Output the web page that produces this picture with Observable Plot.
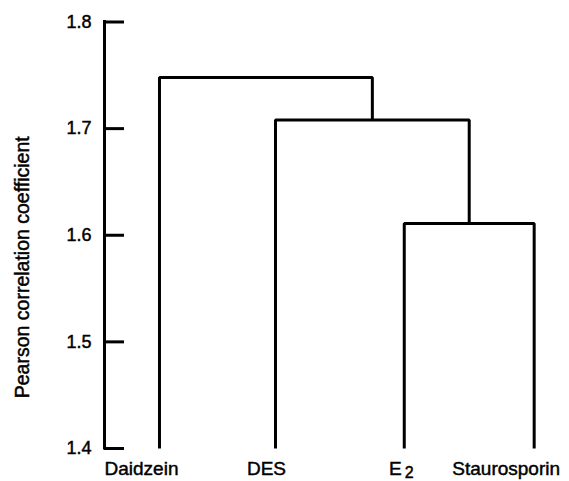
<!DOCTYPE html>
<html>
<head>
<meta charset="utf-8">
<script src="https://cdn.jsdelivr.net/npm/d3@7"></script>
<script src="https://cdn.jsdelivr.net/npm/@observablehq/plot@0.6"></script>
<style>
  html, body { margin: 0; padding: 0; background: #fff; }
  #chart svg { display: block; }
  #chart svg text { stroke: #000; stroke-width: 0.45px; }
</style>
</head>
<body>
<div id="chart"></div>
<script>
// ---- Data ----
const leafNames = ["Daidzein", "DES", "E₂", "Staurosporin"];
const leafOrder = [0, 1, 2.11, 3.23];          // leaf order positions along the dendrogram
const mergeLeft = ["E₂", "DES", "Daidzein"];
const mergeRight = ["Staurosporin", "C1", "C2"];
const mergeNames = ["C1", "C2", "C3"];
const mergeHeights = [1.611, 1.708, 1.748];
const yTicks = [1.4, 1.5, 1.6, 1.7, 1.8];
const yLabel = "Pearson correlation coefficient";

// ---- Build dendrogram links ----
const baseLevel = 1.4;
const nodes = new Map();
leafNames.forEach((n, i) => nodes.set(n, {x: leafOrder[i], h: baseLevel}));
const linkPoints = [];
mergeNames.forEach((m, i) => {
  const L = nodes.get(mergeLeft[i]), R = nodes.get(mergeRight[i]);
  const h = mergeHeights[i];
  linkPoints.push({id: m, x: L.x, y: L.h}, {id: m, x: L.x, y: h},
                  {id: m, x: R.x, y: h}, {id: m, x: R.x, y: R.h});
  nodes.set(m, {x: (L.x + R.x) / 2, h});
});
const leaves = leafNames.map((n, i) => ({name: n, x: leafOrder[i]}));
const labelDx = {"Daidzein": -18, "DES": -9, "E₂": -3, "Staurosporin": -28};

const W = 569, H = 481;
const xDomain = [-0.474, 3.5];
const font = "'Liberation Sans', Arial, Helvetica, sans-serif";

const chart = Plot.plot({
  width: W, height: H,
  marginLeft: 104, marginRight: 4, marginTop: 21.5, marginBottom: 33,
  style: {fontFamily: font, background: "#fff", color: "#000", overflow: "visible"},
  x: {domain: xDomain, axis: null},
  y: {domain: [1.4, 1.8]},
  marks: [
    Plot.axisY({ticks: yTicks, tickFormat: d3.format(".1f"), tickSize: 0, tickPadding: 13,
                fontSize: 18, label: null}),
    Plot.ruleX([xDomain[0]], {stroke: "#000", strokeWidth: 3, y1: 1.4, y2: 1.8, strokeLinecap: "square"}),
    Plot.tickY(yTicks, {y: d => d, stroke: "#000", strokeWidth: 3, insetRight: 441}),
    Plot.line(linkPoints, {x: "x", y: "y", z: "id", stroke: "#000", strokeWidth: 3,
                           strokeLinejoin: "miter", strokeLinecap: "butt"}),
    Plot.text(leaves, {x: "x", y: () => baseLevel, text: "name", fontSize: 19,
                       lineAnchor: "bottom", dy: 26, fill: "#000"}),
    Plot.text([yLabel], {frameAnchor: "left", textAnchor: "middle", rotate: -90,
                         dx: -82, dy: 32, fontSize: 19.5, fill: "#000"})
  ]
});

// apply per-label horizontal offsets and subscript
d3.select(chart).selectAll("text").each(function() {
  const t = this;
  const s = t.textContent;
  if (labelDx[s] !== undefined && t.children.length === 0) {
    const cur = t.getAttribute("transform") || "";
    t.setAttribute("transform", cur + ` translate(${labelDx[s]},0)`);
    if (s === "E₂") {
      t.textContent = "E";
      const ts = document.createElementNS("http://www.w3.org/2000/svg", "tspan");
      ts.setAttribute("dx", "3");
      ts.setAttribute("dy", "3");
      ts.setAttribute("font-size", "16");
      ts.textContent = "2";
      t.appendChild(ts);
    }
  }
});

document.getElementById("chart").appendChild(chart);
</script>
</body>
</html>
